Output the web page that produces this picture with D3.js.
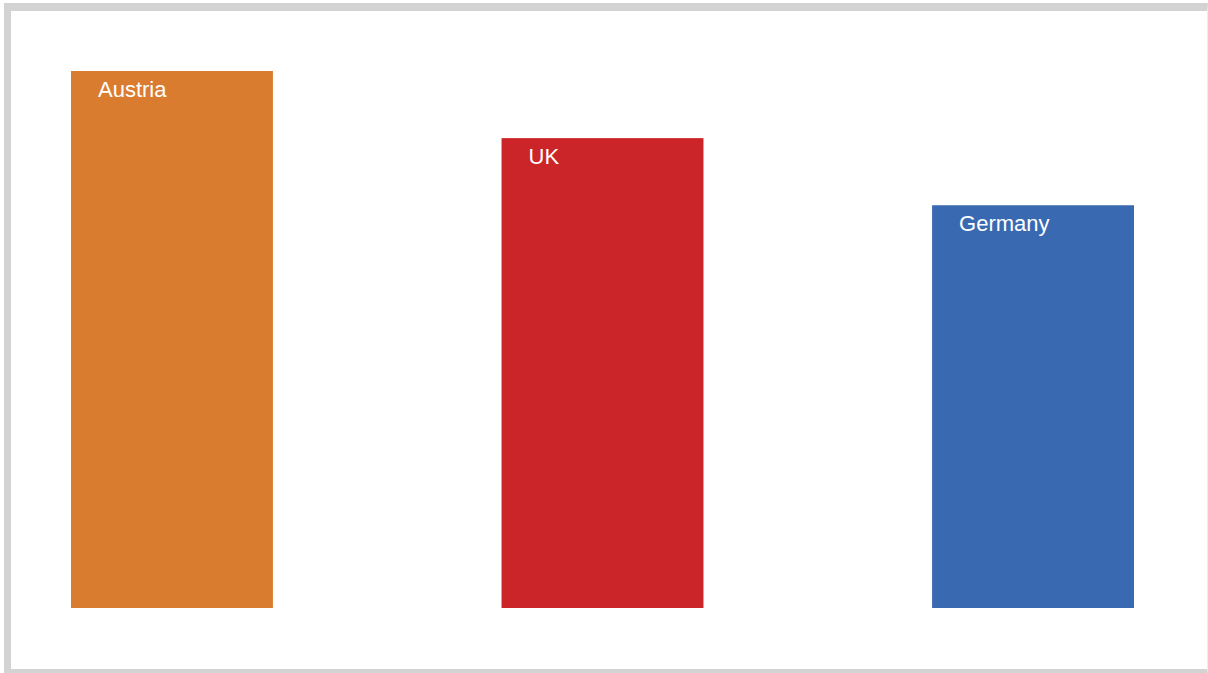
<!DOCTYPE html>
<html>
<head>
<meta charset="utf-8">
<script src="https://cdn.jsdelivr.net/npm/d3@7"></script>
<style>
  body { margin: 0; background: #fff; overflow: hidden; }
  #chart {
    position: absolute;
    left: 4px;
    top: 3px;
    width: 1196px;
    height: 658px;
    border: 7px solid #d3d3d3;
    border-top-width: 8px;
    border-right: 1px solid #ececec;
    background: #fff;
  }
  svg { display: block; }
  .label { font-family: "Liberation Sans", Arial, sans-serif; font-size: 22px; fill: #fff; }
</style>
</head>
<body>
<div id="chart"></div>
<script>
// data
var countries = ['Austria', 'UK', 'Germany'];
var values = [8, 7, 6];
var colors = ['#da7c30', '#cc2529', '#396ab1'];

// dimensions
var margin = {top: 60, right: 73, bottom: 61, left: 60};
var width = 1196 - margin.left - margin.right;
var height = 658 - margin.top - margin.bottom;

var x = d3.scaleBand()
  .domain(countries)
  .range([0, width])
  .paddingInner(0.531)
  .paddingOuter(0);

var y = d3.scaleLinear()
  .domain([0, 8])
  .range([height, 0]);

var svg = d3.select('#chart')
  .append('svg')
  .attr('width', width + margin.left + margin.right)
  .attr('height', height + margin.top + margin.bottom)
.append('g')
  .attr('transform', 'translate(' + margin.left + ',' + margin.top + ')');

var data = countries.map(function(c, i) {
  return {name: c, value: values[i], color: colors[i]};
});

// bars
svg.selectAll('.bar')
  .data(data)
  .enter().append('rect')
    .attr('class', 'bar')
    .attr('x', function(d) { return x(d.name); })
    .attr('y', function(d) { return y(d.value); })
    .attr('width', x.bandwidth())
    .attr('height', function(d) { return height - y(d.value); })
    .attr('fill', function(d) { return d.color; });

// labels inside bars
svg.selectAll('.label')
  .data(data)
  .enter().append('text')
    .attr('class', 'label')
    .attr('x', function(d) { return x(d.name) + 27; })
    .attr('y', function(d) { return y(d.value) + 26; })
    .text(function(d) { return d.name; });
</script>
</body>
</html>
